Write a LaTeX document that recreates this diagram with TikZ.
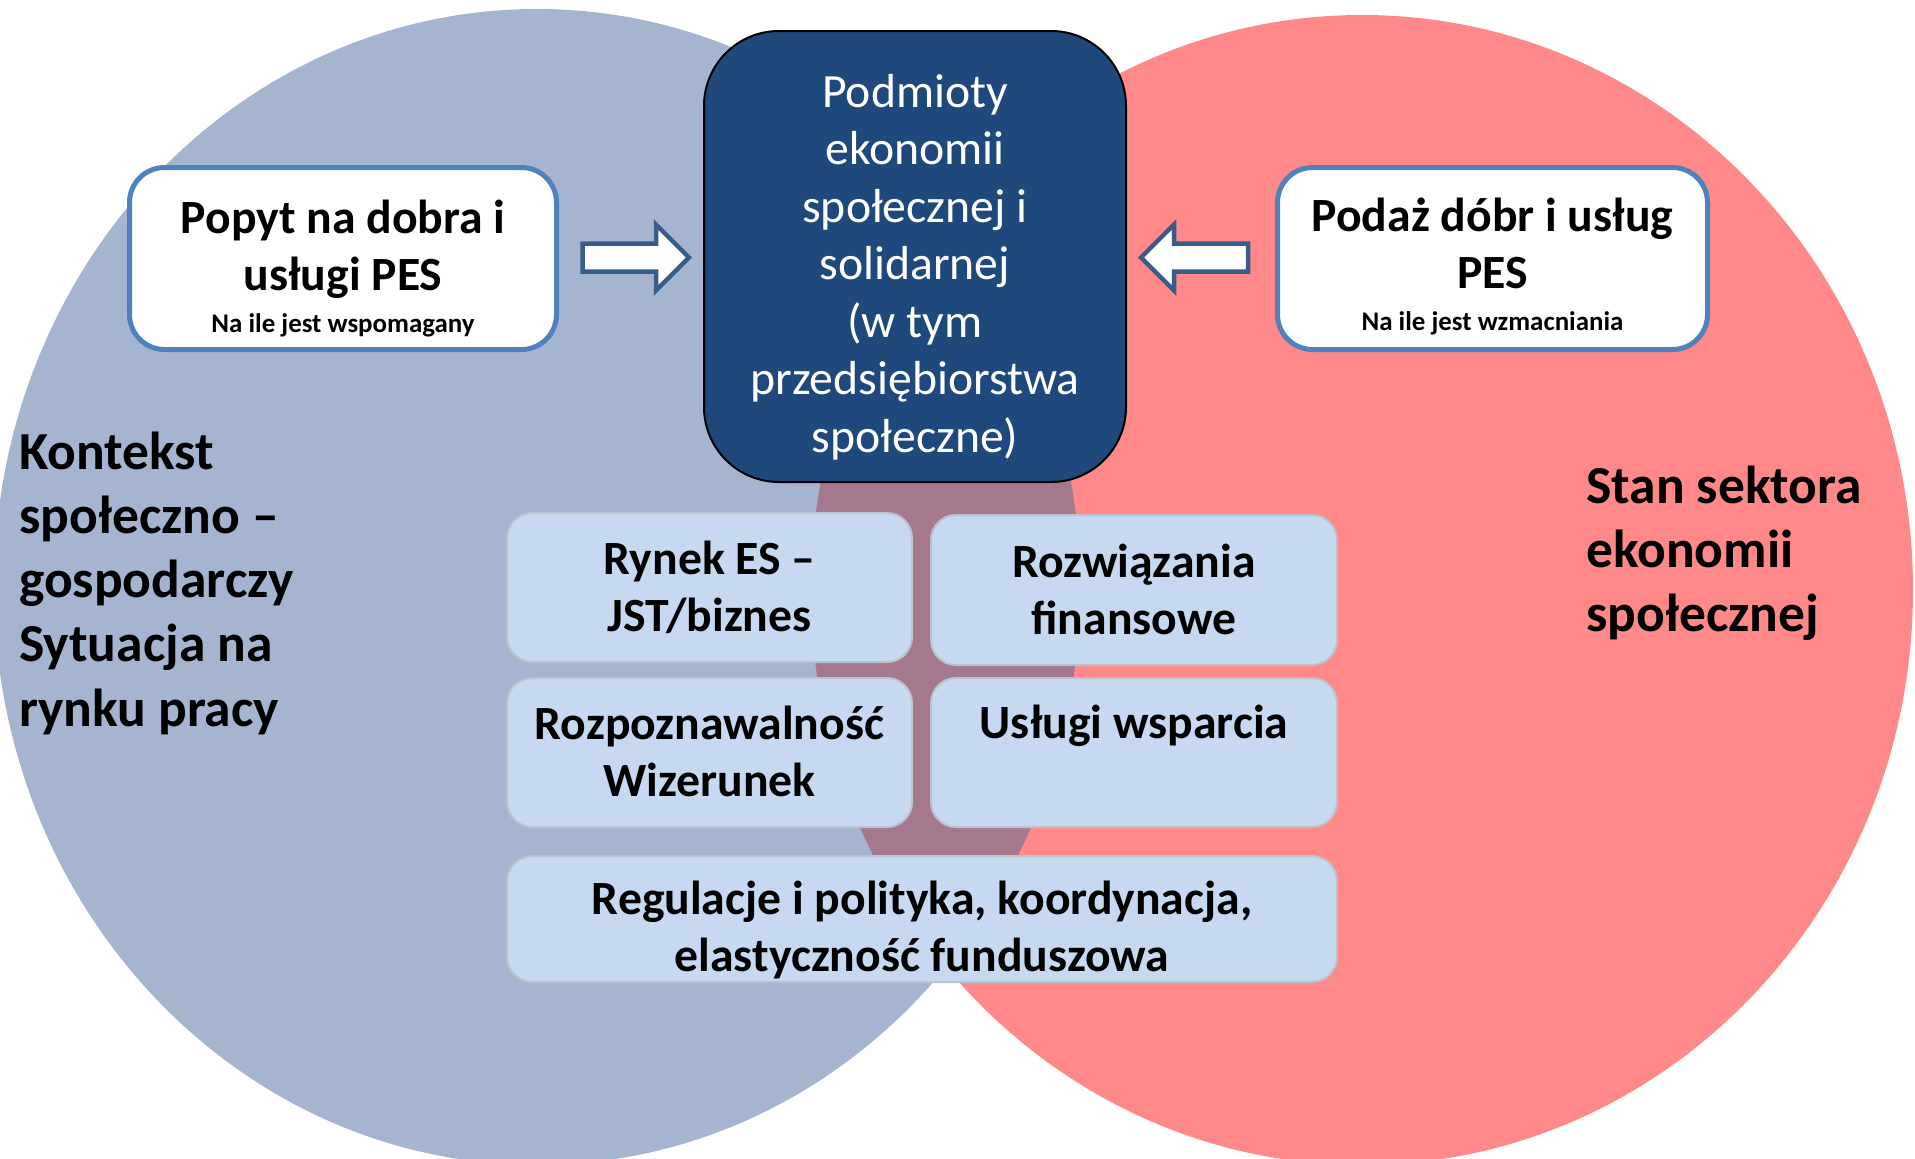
\documentclass[tikz,border=0pt]{standalone}
\usepackage{fontspec}
\setmainfont{Carlito}
\definecolor{leftc}{RGB}{165,181,207}
\definecolor{rightc}{RGB}{255,137,137}
\definecolor{overc}{RGB}{164,121,142}
\definecolor{navy}{RGB}{31,73,125}
\definecolor{boxblue}{RGB}{79,129,189}
\definecolor{arrowc}{RGB}{56,93,138}
\definecolor{lightbox}{RGB}{198,217,240}
\definecolor{lightedge}{RGB}{188,194,204}
\newcommand{\tstrut}{\rule{0pt}{40pt}}
\newcommand{\Tstrut}{\rule{0pt}{45pt}}
\begin{document}
\begin{tikzpicture}[x=1pt,y=-1pt,
  sidebox/.style={draw=boxblue, line width=5pt, fill=white, rounded corners=35pt, inner sep=0pt},
  centerbox/.style={draw=black, line width=2pt, fill=navy, rounded corners=75pt, inner sep=0pt},
  factorbox/.style={draw=lightedge, line width=2pt, fill=lightbox, rounded corners=25pt, inner sep=0pt},
  blockarrow/.style={draw=arrowc, line width=4.5pt, fill=white, line join=miter},
  btext/.style={inner sep=0pt, align=center, anchor=north, font=\fontsize{47.7}{57.5}\selectfont\bfseries},
  wtext/.style={inner sep=0pt, align=center, anchor=north, text=white, font=\fontsize{47.7}{57.5}\selectfont},
  sidetext/.style={inner sep=0pt, align=left, anchor=north west, font=\fontsize{53.5}{64.2}\selectfont\bfseries}]
\useasboundingbox (0,0) rectangle (1915,1159);
% circles
\begin{scope}
  \clip (0,0) rectangle (1915,1159);
  \fill[leftc] (537,587) ellipse [x radius=543pt, y radius=578pt];
  \fill[rightc] (1362,590) ellipse [x radius=551pt, y radius=575pt];
  \begin{scope}
    \clip (537,587) ellipse [x radius=543pt, y radius=578pt];
    \fill[overc] (1362,590) ellipse [x radius=551pt, y radius=575pt];
  \end{scope}
\end{scope}
% side labels
\node[sidetext] (kontekst) at (19,424) {\Tstrut Kontekst\\społeczno –\\gospodarczy\\Sytuacja na\\rynku pracy};
\node[sidetext] (stan) at (1586,458) {\Tstrut Stan sektora\\ekonomii\\społecznej};
% center box
\node[centerbox, minimum width=422pt, minimum height=451pt] (pes) at (915,256.5) {};
\node[wtext] (pestext) at (915,67) {\tstrut Podmioty\\ekonomii\\społecznej i\\solidarnej\\(w tym\\przedsiębiorstwa\\społeczne)};
% side boxes
\node[sidebox, minimum width=427pt, minimum height=182pt] (popyt) at (343,258.5) {};
\node[btext] (popyttext) at (343,193) {\tstrut Popyt na dobra i\\usługi PES\\[-16pt]{\fontsize{26.9}{32}\selectfont Na ile jest wspomagany}};
\node[sidebox, minimum width=430pt, minimum height=182pt] (podaz) at (1492.5,258.5) {};
\node[btext] (podaztext) at (1492.5,191) {\tstrut Podaż dóbr i usług\\PES\\[-16pt]{\fontsize{26.9}{32}\selectfont Na ile jest wzmacniania}};
% block arrows
\draw[blockarrow] (582.5,243.5) -- (656,243.5) -- (656,224.5) -- (689,257.5) -- (656,290.5) -- (656,271.5) -- (582.5,271.5) -- cycle;
\draw[blockarrow] (1248,243.5) -- (1174,243.5) -- (1174,224.5) -- (1141,257.5) -- (1174,290.5) -- (1174,271.5) -- (1248,271.5) -- cycle;
% factor boxes
\node[factorbox, minimum width=405pt, minimum height=149pt] (rynek) at (709.5,587.5) {};
\node[btext] (rynektext) at (709.5,534) {\tstrut Rynek ES –\\JST/biznes};
\node[factorbox, minimum width=406pt, minimum height=150pt] (rozw) at (1134,590) {};
\node[btext] (rozwtext) at (1134,537) {\tstrut Rozwiązania\\finansowe};
\node[factorbox, minimum width=405pt, minimum height=149pt] (rozp) at (709.5,752.5) {};
\node[btext] (rozptext) at (709.5,699) {\tstrut Rozpoznawalność\\Wizerunek};
\node[factorbox, minimum width=406pt, minimum height=149pt] (uslugi) at (1134,752.5) {};
\node[btext] (uslugitext) at (1134,698) {\tstrut Usługi wsparcia};
\node[factorbox, minimum width=830pt, minimum height=126pt] (regul) at (922,919) {};
\node[btext] (regultext) at (922,874) {\tstrut Regulacje i polityka, koordynacja,\\elastyczność funduszowa};
\end{tikzpicture}
\end{document}
